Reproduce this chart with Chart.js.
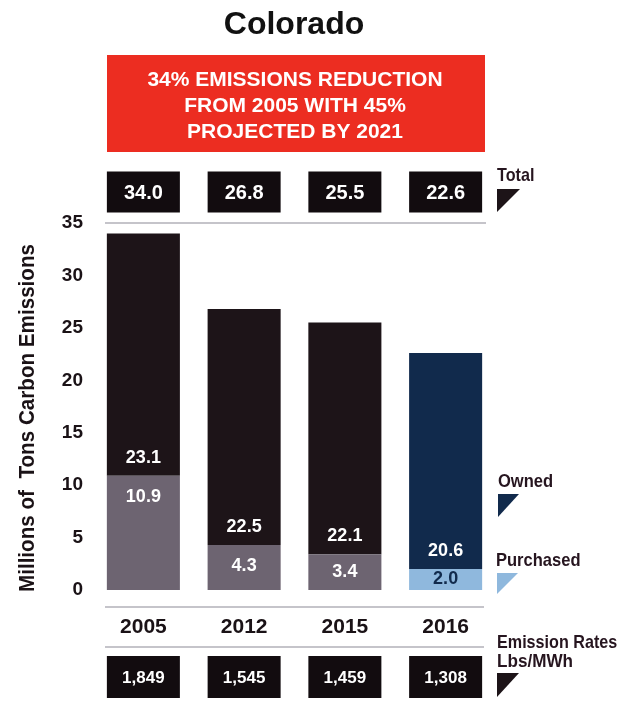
<!DOCTYPE html>
<html>
<head>
<meta charset="utf-8">
<title>Colorado</title>
<script src="https://cdn.jsdelivr.net/npm/chart.js@4"></script>
<style>
  html, body { margin: 0; padding: 0; background: #fff; }
  #wrap { width: 624px; height: 704px; }
</style>
</head>
<body>
<div id="wrap"><canvas id="chart" width="624" height="704"></canvas></div>
<script>
// ---- data ----
const years = ['2005', '2012', '2015', '2016'];
const owned = [23.1, 22.5, 22.1, 20.6];
const purchased = [10.9, 4.3, 3.4, 2.0];
const totals = [34.0, 26.8, 25.5, 22.6];
const emissionRates = ['1,849', '1,545', '1,459', '1,308'];
const headline = ['34% EMISSIONS REDUCTION', 'FROM 2005 WITH 45%', 'PROJECTED BY 2021'];

const SANS = "'Liberation Sans', Arial, Helvetica, sans-serif";
const INK = '#26151f';
const RULE = '#b2b1b8';

// past years in dark, latest year in blue
const ownedColors = ['#1d1418', '#1d1418', '#1d1418', '#112a4c'];
const purchasedColors = ['#6d6471', '#6d6471', '#6d6471', '#8fb8dd'];
const purchasedLabelColors = ['#fff', '#fff', '#fff', '#112a4c'];

function boxText(ctx, text, cx, cy, w, h, size) {
  ctx.fillStyle = '#120c0f';
  ctx.fillRect(cx - w / 2, cy - h / 2, w, h);
  ctx.fillStyle = '#fff';
  ctx.font = `bold ${size}px ${SANS}`;
  ctx.textAlign = 'center';
  ctx.textBaseline = 'middle';
  ctx.fillText(text, cx, cy + 1);
}

// condensed-looking bold text: squeeze horizontally
function narrowText(ctx, text, x, y, size, sx) {
  ctx.save();
  ctx.translate(x, y);
  ctx.scale(sx, 1);
  ctx.font = `bold ${size}px ${SANS}`;
  ctx.fillText(text, 0, 0);
  ctx.restore();
}

function flag(ctx, x, y, w, h, color) {
  ctx.fillStyle = color;
  ctx.beginPath();
  ctx.moveTo(x, y);
  ctx.lineTo(x + w, y);
  ctx.lineTo(x, y + h);
  ctx.closePath();
  ctx.fill();
}

function rule(ctx, x0, x1, y) {
  ctx.strokeStyle = RULE;
  ctx.lineWidth = 1.5;
  ctx.beginPath();
  ctx.moveTo(x0, y);
  ctx.lineTo(x1, y);
  ctx.stroke();
}

const decorations = {
  id: 'decorations',
  afterDraw(chart) {
    const ctx = chart.ctx;
    const x = chart.scales.x;
    ctx.save();

    // heading
    ctx.fillStyle = '#111';
    ctx.font = `bold 32px ${SANS}`;
    ctx.textAlign = 'center';
    ctx.textBaseline = 'middle';
    ctx.fillText('Colorado', 294, 25);

    // red banner
    ctx.fillStyle = '#ec2d21';
    ctx.fillRect(107, 55, 378, 97);
    ctx.fillStyle = '#fff';
    ctx.font = `bold 21px ${SANS}`;
    headline.forEach((line, i) => ctx.fillText(line, 295, 80 + i * 26));

    // totals row and emission-rate row
    years.forEach((_, i) => {
      const cx = x.getPixelForValue(i);
      boxText(ctx, totals[i].toFixed(1), cx, 192, 73, 41, 20);
      boxText(ctx, emissionRates[i], cx, 677, 73, 42, 17);
    });

    rule(ctx, 105, 486, 223);
    rule(ctx, 105, 484, 607);
    rule(ctx, 105, 484, 647);

    // y axis title, squeezed to the axis height
    ctx.save();
    ctx.translate(28, 418);
    ctx.rotate(-Math.PI / 2);
    ctx.fillStyle = '#1a1216';
    ctx.font = `bold 22px ${SANS}`;
    const yTitle = 'Millions of  Tons Carbon Emissions';
    const sx = 348 / ctx.measureText(yTitle).width;
    ctx.scale(sx, 1);
    ctx.fillText(yTitle, 0, 0);
    ctx.restore();

    // side keys
    ctx.textAlign = 'left';
    ctx.fillStyle = INK;
    narrowText(ctx, 'Total', 497, 176, 19, 0.85);
    flag(ctx, 497, 189, 23, 23, '#1d1418');
    ctx.fillStyle = INK;
    narrowText(ctx, 'Owned', 498, 482, 19, 0.87);
    flag(ctx, 498, 494, 21, 23, ownedColors[3]);
    ctx.fillStyle = INK;
    narrowText(ctx, 'Purchased', 496, 561, 19, 0.87);
    flag(ctx, 497, 573, 21, 21, purchasedColors[3]);
    ctx.fillStyle = INK;
    narrowText(ctx, 'Emission Rates', 497, 643, 19, 0.85);
    narrowText(ctx, 'Lbs/MWh', 497, 662, 19, 0.9);
    flag(ctx, 497, 673, 22, 24, '#1d1418');

    ctx.restore();
  },
  afterDatasetsDraw(chart) {
    const ctx = chart.ctx;
    const low = chart.getDatasetMeta(0).data;
    ctx.save();
    ctx.font = `bold 18px ${SANS}`;
    ctx.textAlign = 'center';
    ctx.textBaseline = 'middle';
    low.forEach((bar, i) => {
      const split = bar.y;
      const base = bar.base;
      ctx.fillStyle = '#fff';
      ctx.fillText(owned[i].toFixed(1), bar.x, split - 18);
      ctx.fillStyle = purchasedLabelColors[i];
      ctx.fillText(purchased[i].toFixed(1), bar.x, Math.min(split + 21, (split + base) / 2));
    });
    ctx.restore();
  }
};

new Chart(document.getElementById('chart'), {
  type: 'bar',
  data: {
    labels: years,
    datasets: [
      { label: 'Purchased', data: purchased, backgroundColor: purchasedColors },
      { label: 'Owned', data: owned, backgroundColor: ownedColors }
    ]
  },
  options: {
    responsive: false,
    animation: false,
    devicePixelRatio: 1,
    layout: { padding: { left: 10, right: 128, top: 223, bottom: 50 } },
    datasets: { bar: { barPercentage: 0.725, categoryPercentage: 1 } },
    plugins: { legend: { display: false }, tooltip: { enabled: false } },
    scales: {
      x: {
        stacked: true,
        grid: { display: false, drawTicks: false },
        border: { display: false },
        ticks: { color: '#1a1216', font: { family: SANS, size: 21, weight: 'bold' }, padding: 25 },
        afterFit: s => { s.height = 64; }
      },
      y: {
        stacked: true,
        min: 0,
        max: 35,
        grid: { display: false, drawTicks: false },
        border: { display: false },
        ticks: { stepSize: 5, color: '#1a1216', font: { family: SANS, size: 19, weight: 'bold' }, padding: 10 },
        afterFit: s => { s.width = 83; }
      }
    }
  },
  plugins: [decorations]
});
</script>
</body>
</html>
